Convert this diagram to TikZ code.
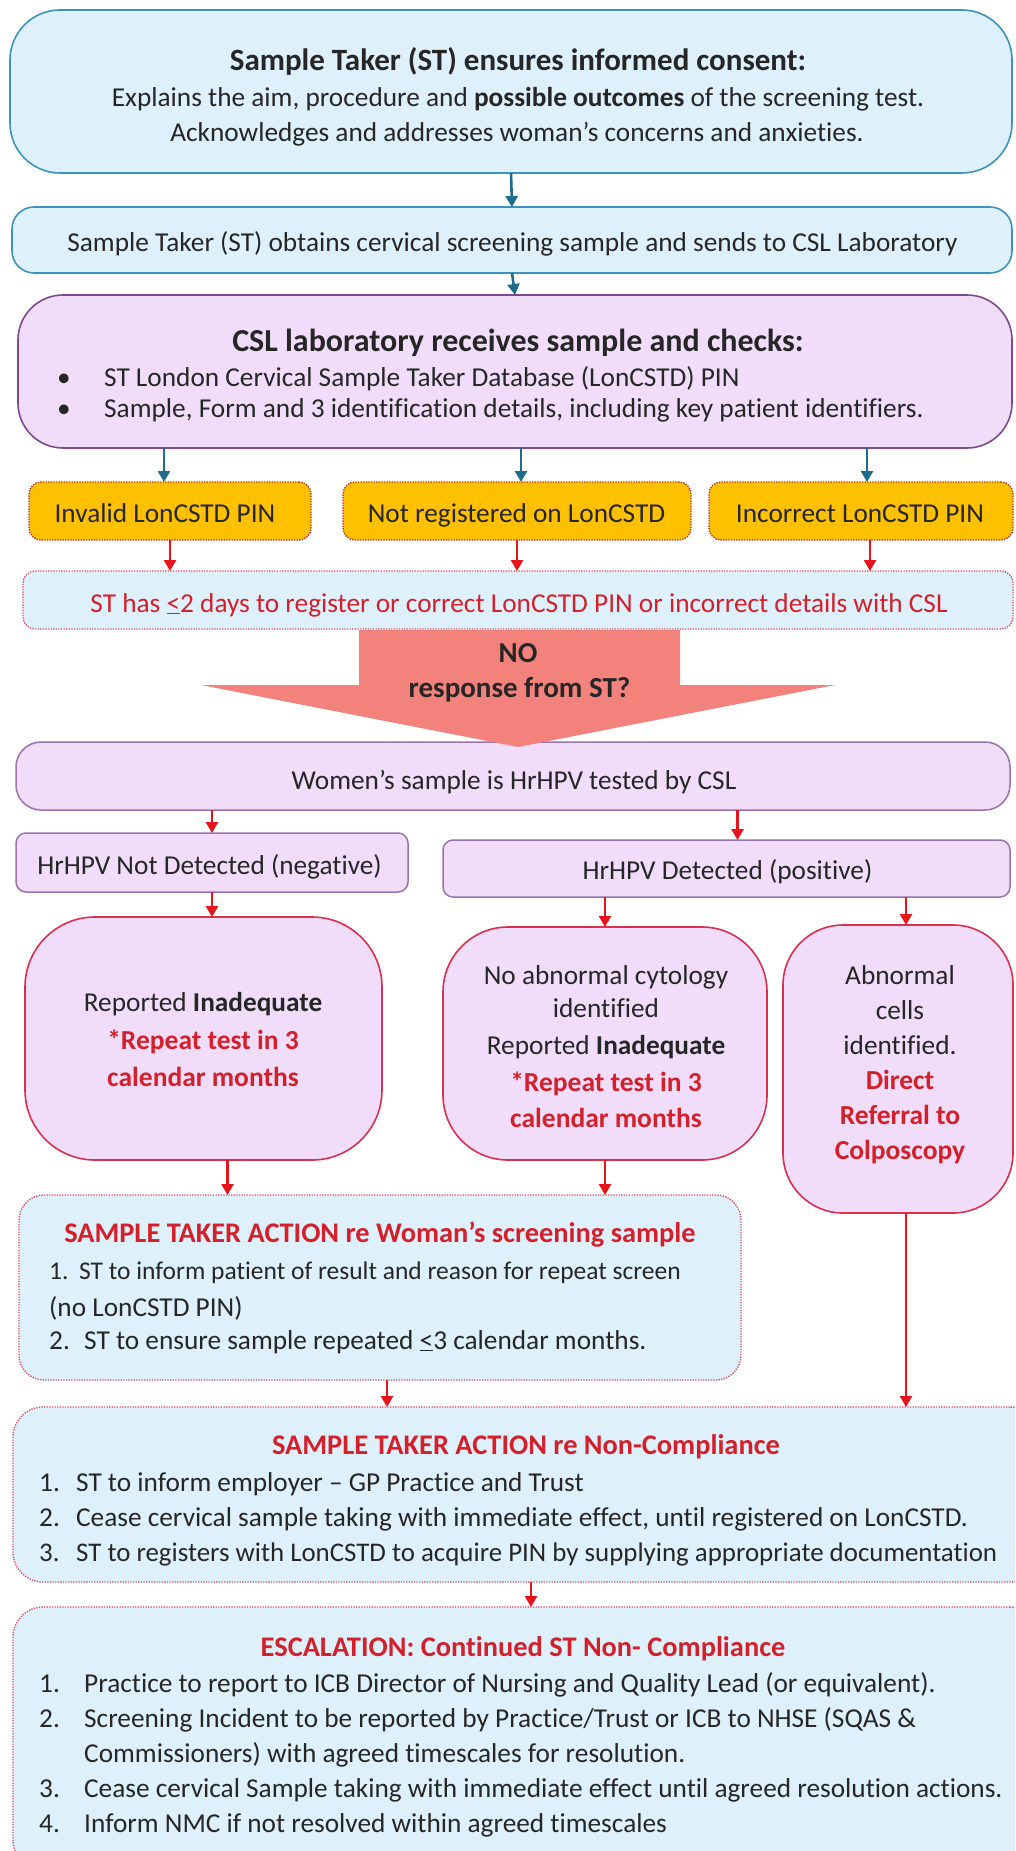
\documentclass[tikz,border=0pt]{standalone}
\usepackage{fontspec}
\setmainfont{Carlito}[Ligatures=NoCommon]
\usetikzlibrary{arrows.meta}
\definecolor{lblue}{HTML}{DDF0FB}
\definecolor{bborder}{HTML}{3C93BE}
\definecolor{barrowc}{HTML}{1E6B8C}
\definecolor{lpurple}{HTML}{F1DDF9}
\definecolor{pborder}{HTML}{7D4A92}
\definecolor{pborder2}{HTML}{9A72AE}
\definecolor{orangef}{HTML}{FFC000}
\definecolor{odot}{HTML}{B5302A}
\definecolor{rarrowc}{HTML}{E8141B}
\definecolor{rtext}{HTML}{D3202B}
\definecolor{rborder}{HTML}{D8304E}
\definecolor{pdot}{HTML}{D2506A}
\definecolor{bigarrowc}{HTML}{F4827C}
\definecolor{tdark}{HTML}{262626}
\begin{document}
\begin{tikzpicture}[x=1pt,y=-1pt,
  shapebox/.style={rectangle, inner sep=0pt, outer sep=0pt},
  bluebox/.style={shapebox, draw=bborder, fill=lblue, line width=1.6pt},
  purplebox/.style={shapebox, draw=pborder, fill=lpurple, line width=1.6pt},
  purplebox2/.style={shapebox, draw=pborder2, fill=lpurple, line width=1.5pt},
  orangebox/.style={shapebox, fill=orangef, draw=odot, line width=1.4pt, dash pattern=on 1.3pt off 1.3pt, rounded corners=12pt},
  dotbox/.style={shapebox, fill=lblue, draw=pdot, line width=1.4pt, dash pattern=on 1.3pt off 1.3pt},
  redround/.style={shapebox, fill=lpurple, draw=rborder, line width=1.6pt},
  barrow/.style={draw=barrowc, line width=2.6pt, -{Triangle[length=11pt,width=12pt]}},
  rarrow/.style={draw=rarrowc, line width=2.6pt, -{Triangle[length=11pt,width=12pt]}},
  t/.style={inner sep=0pt, anchor=base, text=tdark, font=\fontsize{27.3}{32}\selectfont},
  tb/.style={t, font=\fontsize{29}{32}\selectfont\bfseries},
  tr/.style={t, text=rtext, font=\fontsize{27.5}{32}\selectfont\bfseries},
  trt/.style={t, text=rtext, font=\fontsize{28.4}{32}\selectfont\bfseries},
  tl/.style={t, anchor=base west},
]
\clip (0,0) rectangle (1015,1851);
\fill[white] (0,0) rectangle (1015,1851);

% ---- boxes ----
\node[bluebox, rounded corners=50pt, minimum width=1002pt, minimum height=163pt] (b1) at (511,91.5) {};
\node[bluebox, rounded corners=22pt, minimum width=1000pt, minimum height=66pt] (b2) at (512,240) {};
\node[purplebox, rounded corners=45pt, minimum width=994pt, minimum height=153pt] (b3) at (515,371.5) {};
\node[orangebox, minimum width=282pt, minimum height=58pt] (oA) at (170,511) {};
\node[orangebox, minimum width=348pt, minimum height=58pt] (oB) at (517,511) {};
\node[orangebox, minimum width=304pt, minimum height=58pt] (oC) at (861,511) {};
\node[dotbox, rounded corners=12pt, minimum width=990pt, minimum height=58pt] (d1) at (518,600) {};
\node[purplebox2, rounded corners=25pt, minimum width=994pt, minimum height=68pt] (ws) at (513,776) {};
\node[purplebox2, rounded corners=10pt, minimum width=392pt, minimum height=59pt] (nd) at (212,862.5) {};
\node[purplebox2, rounded corners=10pt, minimum width=567pt, minimum height=57pt] (dp) at (726.5,868.5) {};
\node[redround, rounded corners=70pt, minimum width=357pt, minimum height=243pt] (rL) at (203.5,1038.5) {};
\node[redround, rounded corners=65pt, minimum width=324pt, minimum height=233pt] (rM) at (605,1043.5) {};
\node[redround, rounded corners=60pt, minimum width=230pt, minimum height=288pt] (rR) at (898,1069) {};
\node[dotbox, rounded corners=25pt, minimum width=722pt, minimum height=185pt] (wa) at (380,1287.5) {};
\node[dotbox, rounded corners=30pt, minimum width=1027pt, minimum height=175pt] (nc) at (526.5,1494.5) {};
\node[dotbox, rounded corners=30pt, minimum width=1027pt, minimum height=263pt] (es) at (526.5,1738.5) {};

% ---- big arrow ----
\fill[bigarrowc] (359,630) -- (680,630) -- (680,685) -- (835,685) -- (518,747) -- (201,685) -- (359,685) -- cycle;

% ---- connectors ----
\draw[barrow] (b1.south) -- (b2.north);
\draw[barrow] (b2.south) -- (b3.north);
\draw[barrow] ([xshift=-6pt]oA.north |- b3.south) -- ([xshift=-6pt]oA.north);
\draw[barrow] ([xshift=4pt]oB.north |- b3.south) -- ([xshift=4pt]oB.north);
\draw[barrow] ([xshift=6pt]oC.north |- b3.south) -- ([xshift=6pt]oC.north);
\draw[rarrow] (oA.south) -- (oA.south |- d1.north);
\draw[rarrow] (oB.south) -- (oB.south |- d1.north);
\draw[rarrow] ([xshift=9pt]oC.south) -- ([xshift=9pt]oC.south |- d1.north);
\draw[rarrow] (nd.north |- ws.south) -- (nd.north);
\draw[rarrow] ([xshift=11pt]dp.north |- ws.south) -- ([xshift=11pt]dp.north);
\draw[rarrow] (nd.south) -- (nd.south |- rL.north);
\draw[rarrow] (rM.north |- dp.south) -- (rM.north);
\draw[rarrow] ([xshift=8pt]rR.north |- dp.south) -- ([xshift=8pt]rR.north);
\draw[rarrow] ([xshift=24pt]rL.south) -- ([xshift=24pt]rL.south |- wa.north);
\draw[rarrow] (rM.south) -- (rM.south |- wa.north);
\draw[rarrow] ([xshift=8pt]rR.south) -- ([xshift=8pt]rR.south |- nc.north);
\draw[rarrow] ([xshift=7pt]wa.south) -- ([xshift=7pt]wa.south |- nc.north);
\draw[rarrow] ([xshift=4.5pt]nc.south) -- ([xshift=4.5pt]nc.south |- es.north);

% ---- texts ----
\node[tb, font=\fontsize{31}{34}\selectfont\bfseries] (t1a) at (518,71) {Sample Taker (ST) ensures informed consent:};
\node[t] (t1b) at (518,107) {Explains the aim, procedure and \textbf{possible outcomes} of the screening test.};
\node[t] (t1c) at (517,142) {Acknowledges and addresses woman’s concerns and anxieties.};
\node[t] (t2) at (512.5,252) {Sample Taker (ST) obtains cervical screening sample and sends to CSL Laboratory};
\node[tb, font=\fontsize{32}{34}\selectfont\bfseries] (t3a) at (518,351) {CSL laboratory receives sample and checks:};
\node[tl] (t3b) at (57,386) {\makebox[47pt][l]{\textbullet}ST London Cervical Sample Taker Database (LonCSTD) PIN};
\node[tl] (t3c) at (57,417) {\makebox[47pt][l]{\textbullet}Sample, Form and 3 identification details, including key patient identifiers.};
\node[t] (toA) at (165,522) {Invalid LonCSTD PIN};
\node[t] (toB) at (516.5,522) {Not registered on LonCSTD};
\node[t] (toC) at (860,522) {Incorrect LonCSTD PIN};
\node[t, text=rtext] (td1) at (519,612) {ST has \underline{<}2 days to register or correct LonCSTD PIN or incorrect details with CSL};
\node[tb] (tno) at (518,662) {NO};
\node[tb] (tresp) at (519.5,697) {response from ST?};
\node[t] (tws) at (514,789) {Women’s sample is HrHPV tested by CSL};
\node[t] (tnd) at (209.5,874) {HrHPV Not Detected (negative)};
\node[t] (tdp) at (727.5,879) {HrHPV Detected (positive)};
\node[t] (tLa) at (203,1011) {Reported \textbf{Inadequate}};
\node[tr] (tLb) at (203,1049) {*Repeat test in 3};
\node[tr] (tLc) at (203,1086) {calendar months};
\node[t] (tMa) at (606,984) {No abnormal cytology};
\node[t] (tMb) at (606,1017) {identified};
\node[t] (tMc) at (606,1054) {Reported \textbf{Inadequate}};
\node[tr] (tMd) at (606,1091) {*Repeat test in 3};
\node[tr] (tMe) at (606,1127) {calendar months};
\node[t] (tRa) at (900,984) {Abnormal};
\node[t] (tRb) at (900,1019) {cells};
\node[t] (tRc) at (900,1054) {identified.};
\node[tr] (tRd) at (900,1089) {Direct};
\node[tr] (tRe) at (900,1124) {Referral to};
\node[tr] (tRf) at (900,1159) {Colposcopy};
\node[trt] (twa) at (380,1242) {SAMPLE TAKER ACTION re Woman’s screening sample};
\node[tl, font=\fontsize{25.5}{32}\selectfont] (twb) at (49,1279) {\makebox[30pt][l]{1.}ST to inform patient of result and reason for repeat screen};
\node[tl] (twc) at (49,1316) {(no LonCSTD PIN)};
\node[tl] (twd) at (49,1349) {\makebox[35pt][l]{2.}ST to ensure sample repeated \underline{<}3 calendar months.};
\node[trt] (tnc) at (526,1454) {SAMPLE TAKER ACTION re Non-Compliance};
\node[tl] (tnca) at (39,1491) {\makebox[37pt][l]{1.}ST to inform employer – GP Practice and Trust};
\node[tl] (tncb) at (39,1526) {\makebox[37pt][l]{2.}Cease cervical sample taking with immediate effect, until registered on LonCSTD.};
\node[tl, font=\fontsize{26.9}{32}\selectfont] (tncc) at (39,1561) {\makebox[37pt][l]{3.}ST to registers with LonCSTD to acquire PIN by supplying appropriate documentation};
\node[trt] (tes) at (523,1656) {ESCALATION: Continued ST Non- Compliance};
\node[tl] (tesa) at (39,1692) {\makebox[45pt][l]{1.}Practice to report to ICB Director of Nursing and Quality Lead (or equivalent).};
\node[tl] (tesb) at (39,1727) {\makebox[45pt][l]{2.}Screening Incident to be reported by Practice/Trust or ICB to NHSE (SQAS \&};
\node[tl] (tesc) at (84,1762) {Commissioners) with agreed timescales for resolution.};
\node[tl] (tesd) at (39,1797) {\makebox[45pt][l]{3.}Cease cervical Sample taking with immediate effect until agreed resolution actions.};
\node[tl] (tese) at (39,1832) {\makebox[45pt][l]{4.}Inform NMC if not resolved within agreed timescales};
\end{tikzpicture}
\end{document}
